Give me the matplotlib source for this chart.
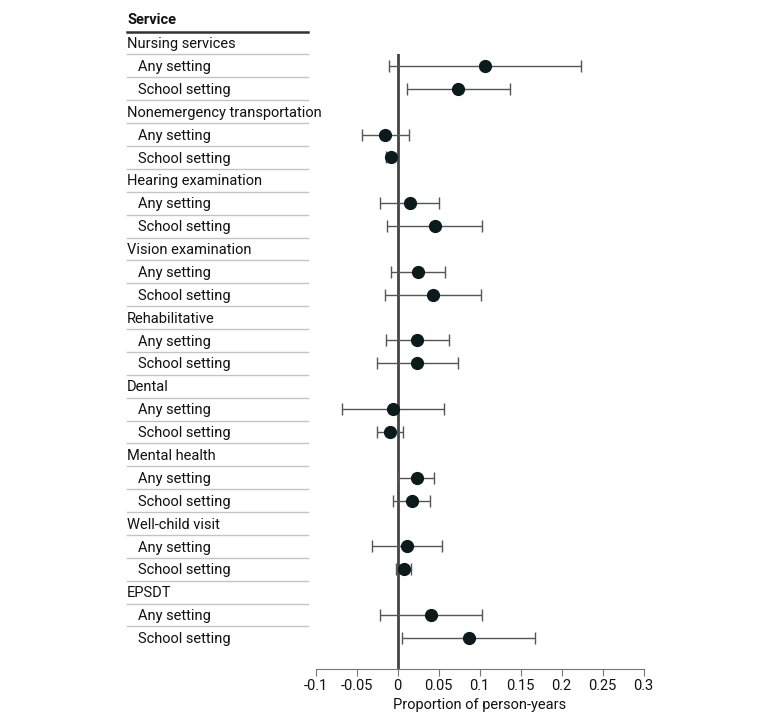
import matplotlib.pyplot as plt
from matplotlib.lines import Line2D
from matplotlib.transforms import blended_transform_factory

# services and the two estimates per service
services = ['Nursing services', 'Nonemergency transportation', 'Hearing examination',
            'Vision examination', 'Rehabilitative', 'Dental', 'Mental health',
            'Well-child visit', 'EPSDT']
settings = ['Any setting', 'School setting']

est = [0.1065, 0.074, -0.015, -0.008, 0.015, 0.045, 0.025, 0.043, 0.024, 0.024,
       -0.0057, -0.009, 0.023, 0.017, 0.011, 0.0073, 0.041, 0.0866]
lo = [-0.011, 0.011, -0.044, -0.0146, -0.021, -0.013, -0.0078, -0.016, -0.0146, -0.025,
      -0.068, -0.025, 0.0008, -0.0057, -0.031, -0.0024, -0.021, 0.005]
hi = [0.2235, 0.137, 0.014, -0.001, 0.051, 0.103, 0.058, 0.102, 0.063, 0.074,
      0.056, 0.006, 0.044, 0.040, 0.0537, 0.0159, 0.103, 0.168]

xticks = [-0.1, -0.05, 0, 0.05, 0.1, 0.15, 0.2, 0.25, 0.3]
xticklabels = ['-0.1', '-0.05', '0', '0.05', '0.1', '0.15', '0.2', '0.25', '0.3']

plt.rcParams['font.family'] = ['Roboto', 'DejaVu Sans']
fs = 10.5

fig = plt.figure(figsize=(7.8, 7.21), dpi=100)
ax = fig.add_axes([0.4047, 0.0721, 0.4205, 0.853])

# row positions: header at 3*k, sub rows after it
ypos = []
for k in range(len(services)):
    ypos.append(3 * k + 1)
    ypos.append(3 * k + 2)

xerr = [[e - l for e, l in zip(est, lo)], [h - e for e, h in zip(est, hi)]]
ax.errorbar(est, ypos, xerr=xerr, fmt='o', color='#0b1a1a', markersize=8.5,
            ecolor='#555555', elinewidth=1, capsize=4, capthick=1, zorder=3)
ax.axvline(0, color='#444444', lw=2, zorder=2)

ax.set_xlim(-0.1, 0.3)
ax.set_ylim(27.36, 0.48)
for s in ['left', 'right', 'top']:
    ax.spines[s].set_visible(False)
ax.spines['bottom'].set_color('#777777')
ax.set_yticks([])
ax.set_xticks(xticks)
ax.set_xticklabels(xticklabels, fontsize=fs)
ax.tick_params(axis='x', colors='#777777', labelcolor='#111111', length=5, pad=2.5)
ax.set_xlabel('Proportion of person-years', fontsize=fs, color='#111111', labelpad=3)

# table on the left
tr = blended_transform_factory(fig.transFigure, ax.transData)
x0, x1 = 127 / 780, 308 / 780
ax.text(x0, -1, 'Service', transform=tr, fontsize=fs, fontweight='bold',
        va='center', ha='left', color='#111111')
ax.add_line(Line2D([x0, x1], [-0.5, -0.5], transform=tr, color='#333333', lw=1.8, clip_on=False))
for k, name in enumerate(services):
    ax.text(x0, 3 * k + 0.05, name, transform=tr, fontsize=fs, va='center', ha='left', color='#111111')
    for j, st in enumerate(settings):
        ax.text(138 / 780, 3 * k + j + 1.05, st, transform=tr, fontsize=fs,
                va='center', ha='left', color='#111111')
for r in range(26):
    ax.add_line(Line2D([x0, x1], [r + 0.5, r + 0.5], transform=tr, color='#c4c4c4',
                       lw=1, clip_on=False))

fig.savefig('out.png', dpi=100)
